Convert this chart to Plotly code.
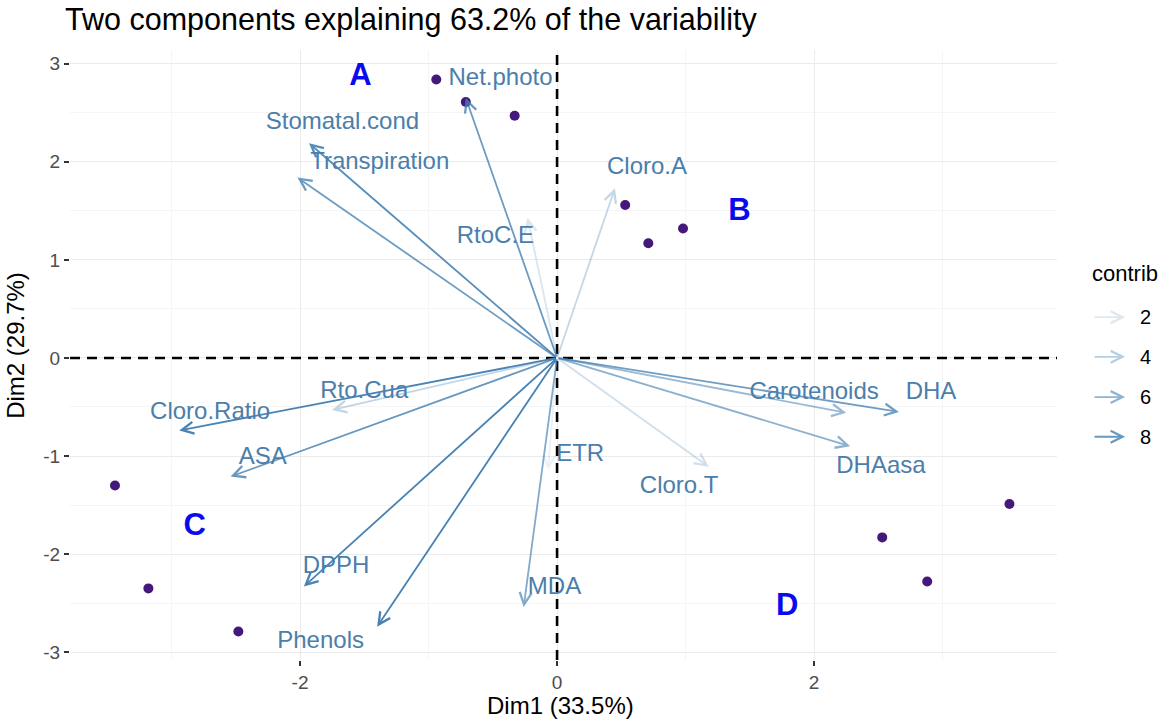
import plotly.graph_objects as go

title_text = "Two components explaining 63.2% of the variability"
x_title = "Dim1 (33.5%)"
y_title = "Dim2 (29.7%)"

# individuals
ind_x = [-0.94, -0.71, -0.33, 0.53, 0.71, 0.98, -3.44, -3.18, -2.48, 2.53, 2.88, 3.52]
ind_y = [2.84, 2.61, 2.47, 1.56, 1.17, 1.32, -1.30, -2.35, -2.79, -1.83, -2.28, -1.49]

# variables
var_names = ["Net.photo", "Stomatal.cond", "Transpiration", "RtoC.E", "Cloro.A", "Carotenoids",
             "DHA", "DHAasa", "Cloro.T", "ETR", "MDA", "Phenols", "DPPH", "ASA",
             "Cloro.Ratio", "Rto.Cua"]
var_x = [-0.71, -1.93, -2.02, -0.23, 0.45, 2.25, 2.66, 2.28, 1.18, -0.07, -0.26, -1.40, -1.97, -2.54, -2.94, -1.75]
var_y = [2.65, 2.19, 1.84, 1.43, 1.73, -0.56, -0.55, -0.90, -1.11, -1.14, -2.54, -2.74, -2.33, -1.21, -0.74, -0.53]
var_contrib = [7.8, 8.8, 7.7, 2.2, 3.3, 5.5, 7.6, 6.2, 2.7, 1.3, 6.7, 9.7, 9.6, 8.1, 9.5, 3.4]
lab_x = [-0.44, -1.67, -1.38, -0.48, 0.70, 2.00, 2.91, 2.52, 0.95, 0.18, -0.02, -1.84, -1.72, -2.29, -2.70, -1.50]
lab_y = [2.84, 2.40, 1.99, 1.23, 1.94, -0.36, -0.36, -1.11, -1.32, -0.99, -2.35, -2.90, -2.13, -1.02, -0.56, -0.35]

# group letters
group_labels = ["A", "B", "C", "D"]
group_x = [-1.53, 1.42, -2.82, 1.79]
group_y = [2.86, 1.49, -1.73, -2.54]

# axis ticks
x_ticks = [-2, 0, 2]
x_ticktext = ["-2", "0", "2"]
y_ticks = [-3, -2, -1, 0, 1, 2, 3]
y_ticktext = ["-3", "-2", "-1", "0", "1", "2", "3"]

legend_breaks = [2, 4, 6, 8]

FONT = "Liberation Sans, Arial, sans-serif"
cmin, cmax = min(var_contrib), max(var_contrib)


def alpha_of(c):
    return 0.1 + 0.9 * (c - cmin) / (cmax - cmin)


def steel(a):
    return f"rgba(70,130,180,{a:.3f})"


fig = go.Figure()

fig.add_trace(go.Scatter(
    x=ind_x, y=ind_y, mode="markers",
    marker=dict(size=10, color="#45197c"),
    showlegend=False, hoverinfo="skip"))

fig.add_trace(go.Scatter(
    x=lab_x, y=lab_y, mode="text", text=var_names,
    textfont=dict(family=FONT, size=24, color="#4b7eaa"),
    showlegend=False, hoverinfo="skip"))

fig.add_trace(go.Scatter(
    x=group_x, y=group_y, mode="text", text=group_labels,
    textfont=dict(family=FONT, size=31, color="#0a0aee", weight="bold"),
    showlegend=False, hoverinfo="skip"))

annotations = []
for vx, vy, c in zip(var_x, var_y, var_contrib):
    annotations.append(dict(
        x=vx, y=vy, ax=0, ay=0, xref="x", yref="y", axref="x", ayref="y",
        text="", showarrow=True, arrowhead=5, arrowsize=1.3, arrowwidth=1.8,
        arrowcolor=steel(alpha_of(c))))

# axis titles
annotations.append(dict(
    x=0.497, y=-0.0738, xref="paper", yref="paper", text=x_title, showarrow=False,
    xanchor="center", yanchor="middle", font=dict(family=FONT, size=24, color="black")))
annotations.append(dict(
    x=-0.0547, y=0.515, xref="paper", yref="paper", text=y_title, showarrow=False,
    textangle=-90, xanchor="center", yanchor="middle",
    font=dict(family=FONT, size=24, color="black")))

# manual legend
annotations.append(dict(
    x=1.0334, y=0.634, xref="paper", yref="paper", text="contrib", showarrow=False,
    xanchor="left", yanchor="middle", font=dict(family=FONT, size=22, color="black")))
leg_y = [0.562, 0.497, 0.431, 0.366]
for b, ly in zip(legend_breaks, leg_y):
    annotations.append(dict(
        x=1.069, y=ly, xref="paper", yref="paper", ax=-32, ay=0, axref="pixel", ayref="pixel",
        text="", showarrow=True, arrowhead=5, arrowsize=1.3, arrowwidth=1.8,
        arrowcolor=steel(alpha_of(b))))
    annotations.append(dict(
        x=1.090, y=ly, xref="paper", yref="paper", text=str(b), showarrow=False,
        xanchor="center", yanchor="middle", font=dict(family=FONT, size=20, color="black")))

fig.add_shape(type="line", x0=0, x1=0, y0=0, y1=1, xref="x", yref="paper",
              line=dict(color="black", width=2.6, dash="10px,7px"), layer="above")
fig.add_shape(type="line", x0=0, x1=1, y0=0, y1=0, xref="paper", yref="y",
              line=dict(color="black", width=2.6, dash="10px,7px"), layer="above")

fig.update_layout(
    width=1168, height=721,
    paper_bgcolor="white", plot_bgcolor="white",
    margin=dict(l=70, r=111, t=50, b=61, autoexpand=False),
    title=dict(text=title_text, x=0.0557, xref="container", xanchor="left",
               y=0.973, yanchor="middle",
               font=dict(family=FONT, size=30.5, color="black")),
    annotations=annotations,
    showlegend=False,
)

fig.update_xaxes(
    range=[-3.79, 3.89], tickmode="array", tickvals=x_ticks, ticktext=x_ticktext,
    showgrid=True, gridcolor="#ebebeb", gridwidth=1,
    minor=dict(dtick=1, tick0=0, showgrid=True, gridcolor="#f5f5f5", gridwidth=1),
    zeroline=False, showline=False, automargin=False,
    ticks="outside", ticklen=5, tickwidth=1.5, tickcolor="#333333",
    tickfont=dict(family=FONT, size=19, color="#4d4d4d"),
)
fig.update_yaxes(
    range=[-3.08, 3.14], tickmode="array", tickvals=y_ticks, ticktext=y_ticktext,
    showgrid=True, gridcolor="#ebebeb", gridwidth=1,
    minor=dict(dtick=0.5, tick0=0, showgrid=True, gridcolor="#f5f5f5", gridwidth=1),
    zeroline=False, showline=False, automargin=False,
    ticks="outside", ticklen=5, tickwidth=1.5, tickcolor="#333333",
    tickfont=dict(family=FONT, size=19, color="#4d4d4d"),
)

fig.write_html("out.html", config={"displayModeBar": False},
               post_script="document.body.style.margin='0px';")
